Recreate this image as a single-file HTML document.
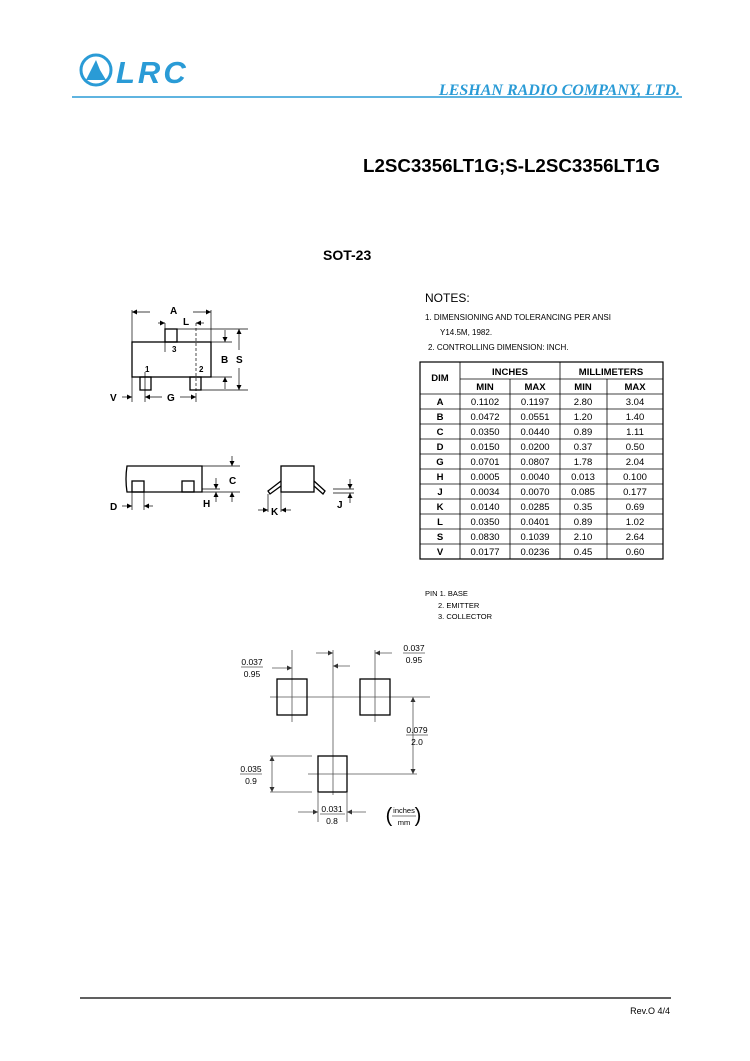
<!DOCTYPE html>
<html><head><meta charset="utf-8"><style>
html,body{margin:0;padding:0;background:#fff}
svg{display:block}
text{font-family:"Liberation Sans",Arial,sans-serif}
</style></head><body>
<svg width="750" height="1061" viewBox="0 0 750 1061" xmlns="http://www.w3.org/2000/svg">
<defs>
<marker id="a" viewBox="0 0 10 10" refX="10" refY="5" markerWidth="6" markerHeight="5" orient="auto" markerUnits="userSpaceOnUse"><path d="M0 0 L10 5 L0 10 Z" fill="#000"/></marker>
<marker id="g" viewBox="0 0 10 10" refX="10" refY="5" markerWidth="6" markerHeight="5" orient="auto" markerUnits="userSpaceOnUse"><path d="M0 0 L10 5 L0 10 Z" fill="#333"/></marker>
</defs>
<!-- header -->
<circle cx="96" cy="70" r="15" fill="none" stroke="#2a9bd6" stroke-width="3"/>
<path d="M86 80 L96 60 L100 70 L106 80 Z" fill="#2a9bd6"/>
<text x="116" y="83" font-size="31" font-weight="bold" font-style="italic" fill="#2a9bd6" letter-spacing="3">LRC</text>
<text x="680" y="95" text-anchor="end" font-size="16" font-weight="bold" font-style="italic" fill="#2a9bd6" style="font-family:'Liberation Serif',serif">LESHAN RADIO COMPANY, LTD.</text>
<line x1="72" y1="97" x2="682" y2="97" stroke="#2a9bd6" stroke-width="1.5"/>
<text x="363" y="172" font-size="18" font-weight="bold" textLength="297" lengthAdjust="spacingAndGlyphs">L2SC3356LT1G;S-L2SC3356LT1G</text>
<text x="323" y="260" font-size="14" font-weight="bold">SOT-23</text>

<!-- top view -->
<g stroke="#000" fill="none" stroke-width="1.3">
<rect x="132" y="342" width="79" height="35" fill="#fff"/>
<rect x="165" y="329" width="12" height="13"/>
<rect x="140" y="377" width="11" height="13"/>
<rect x="190" y="377" width="11" height="13"/>
</g>
<g stroke="#000" stroke-width="0.7" fill="none">
<line x1="132" y1="310" x2="132" y2="402"/><line x1="211" y1="310" x2="211" y2="342"/>
<line x1="150" y1="312" x2="132" y2="312" marker-end="url(#a)"/><line x1="193" y1="312" x2="211" y2="312" marker-end="url(#a)"/>
<line x1="177" y1="329" x2="248" y2="329"/>
<line x1="211" y1="342" x2="232" y2="342"/><line x1="211" y1="377" x2="232" y2="377"/>
<line x1="201" y1="390" x2="248" y2="390"/>
<line x1="239" y1="350" x2="239" y2="329" marker-end="url(#a)"/><line x1="239" y1="368" x2="239" y2="390" marker-end="url(#a)"/>
<line x1="225" y1="330" x2="225" y2="342" marker-end="url(#a)"/><line x1="225" y1="389" x2="225" y2="377" marker-end="url(#a)"/>
<line x1="165" y1="323" x2="165" y2="352"/><line x1="196" y1="323" x2="196" y2="395" stroke-dasharray="3,2"/>
<line x1="158" y1="323" x2="165" y2="323" marker-end="url(#a)"/><line x1="204" y1="323" x2="196" y2="323" marker-end="url(#a)"/>
<line x1="145" y1="372" x2="145" y2="402"/><line x1="196" y1="395" x2="196" y2="402"/>
<line x1="162" y1="397" x2="145" y2="397" marker-end="url(#a)"/><line x1="180" y1="397" x2="196" y2="397" marker-end="url(#a)"/>
<line x1="122" y1="397" x2="132" y2="397" marker-end="url(#a)"/>
</g>
<g font-size="10" font-weight="bold">
<text x="170" y="314">A</text><text x="183" y="325">L</text><text x="221" y="363">B</text><text x="236" y="363">S</text>
<text x="167" y="401">G</text><text x="110" y="401">V</text>
</g>
<g font-size="8" font-weight="bold"><text x="172" y="352">3</text><text x="145" y="372">1</text><text x="199" y="372">2</text></g>

<!-- side view -->
<g stroke="#000" fill="none" stroke-width="1.3">
<path d="M127 466 L202 466 L202 492 L127 492 Q125 479 127 466 Z"/>
<rect x="132" y="481" width="12" height="11"/><rect x="182" y="481" width="12" height="11"/>
<rect x="281" y="466" width="33" height="26"/>
<path d="M281 481 L268 491 L270 494 L281 486"/><path d="M314 481 L325 491 L323 494 L314 486"/>
</g>
<g stroke="#000" stroke-width="0.7" fill="none">
<line x1="202" y1="466" x2="240" y2="466"/><line x1="202" y1="492" x2="240" y2="492"/>
<line x1="202" y1="489" x2="220" y2="489"/>
<line x1="232" y1="456" x2="232" y2="466" marker-end="url(#a)"/><line x1="232" y1="502" x2="232" y2="492" marker-end="url(#a)"/>
<line x1="216" y1="478" x2="216" y2="489" marker-end="url(#a)"/><line x1="216" y1="502" x2="216" y2="492" marker-end="url(#a)"/>
<line x1="132" y1="492" x2="132" y2="510"/><line x1="144" y1="492" x2="144" y2="510"/>
<line x1="122" y1="506" x2="132" y2="506" marker-end="url(#a)"/><line x1="153" y1="506" x2="144" y2="506" marker-end="url(#a)"/>
<line x1="268" y1="494" x2="268" y2="512"/><line x1="281" y1="492" x2="281" y2="512"/>
<line x1="258" y1="510" x2="268" y2="510" marker-end="url(#a)"/><line x1="291" y1="510" x2="281" y2="510" marker-end="url(#a)"/>
<line x1="333" y1="489" x2="354" y2="489"/><line x1="333" y1="493" x2="354" y2="493"/>
<line x1="350" y1="479" x2="350" y2="489" marker-end="url(#a)"/><line x1="350" y1="503" x2="350" y2="493" marker-end="url(#a)"/>
</g>
<g font-size="10" font-weight="bold">
<text x="229" y="484">C</text><text x="203" y="507">H</text><text x="110" y="510">D</text><text x="271" y="515">K</text><text x="337" y="508">J</text>
</g>

<!-- notes -->
<text x="425" y="302" font-size="12">NOTES:</text>
<text x="425" y="320" font-size="8">1. DIMENSIONING AND TOLERANCING PER ANSI</text>
<text x="440" y="335" font-size="8">Y14.5M, 1982.</text>
<text x="428" y="350" font-size="8">2. CONTROLLING DIMENSION: INCH.</text>

<!-- table -->
<g stroke="#000" stroke-width="0.8" fill="none">
<rect x="420" y="362" width="243" height="197" stroke-width="1.2"/>
<line x1="460" y1="362" x2="460" y2="559"/>
<line x1="560" y1="362" x2="560" y2="559"/>
<line x1="510" y1="379" x2="510" y2="559"/>
<line x1="607" y1="379" x2="607" y2="559"/>
<line x1="460" y1="379" x2="663" y2="379"/>
<line x1="420" y1="394" x2="663" y2="394"/>
<line x1="420" y1="409" x2="663" y2="409"/><line x1="420" y1="424" x2="663" y2="424"/>
<line x1="420" y1="439" x2="663" y2="439"/><line x1="420" y1="454" x2="663" y2="454"/>
<line x1="420" y1="469" x2="663" y2="469"/><line x1="420" y1="484" x2="663" y2="484"/>
<line x1="420" y1="499" x2="663" y2="499"/><line x1="420" y1="514" x2="663" y2="514"/>
<line x1="420" y1="529" x2="663" y2="529"/><line x1="420" y1="544" x2="663" y2="544"/>
</g>
<g font-size="9.5" font-weight="bold" text-anchor="middle">
<text x="440" y="381">DIM</text><text x="510" y="375">INCHES</text><text x="611" y="375">MILLIMETERS</text>
<text x="485" y="390">MIN</text><text x="535" y="390">MAX</text><text x="583" y="390">MIN</text><text x="635" y="390">MAX</text>
</g>
<g font-size="9.5" text-anchor="middle">
<g font-weight="bold"><text x="440" y="405">A</text><text x="440" y="420">B</text><text x="440" y="435">C</text><text x="440" y="450">D</text><text x="440" y="465">G</text><text x="440" y="480">H</text><text x="440" y="495">J</text><text x="440" y="510">K</text><text x="440" y="525">L</text><text x="440" y="540">S</text><text x="440" y="555">V</text></g>
<text x="485" y="405">0.1102</text><text x="535" y="405">0.1197</text><text x="583" y="405">2.80</text><text x="635" y="405">3.04</text>
<text x="485" y="420">0.0472</text><text x="535" y="420">0.0551</text><text x="583" y="420">1.20</text><text x="635" y="420">1.40</text>
<text x="485" y="435">0.0350</text><text x="535" y="435">0.0440</text><text x="583" y="435">0.89</text><text x="635" y="435">1.11</text>
<text x="485" y="450">0.0150</text><text x="535" y="450">0.0200</text><text x="583" y="450">0.37</text><text x="635" y="450">0.50</text>
<text x="485" y="465">0.0701</text><text x="535" y="465">0.0807</text><text x="583" y="465">1.78</text><text x="635" y="465">2.04</text>
<text x="485" y="480">0.0005</text><text x="535" y="480">0.0040</text><text x="583" y="480">0.013</text><text x="635" y="480">0.100</text>
<text x="485" y="495">0.0034</text><text x="535" y="495">0.0070</text><text x="583" y="495">0.085</text><text x="635" y="495">0.177</text>
<text x="485" y="510">0.0140</text><text x="535" y="510">0.0285</text><text x="583" y="510">0.35</text><text x="635" y="510">0.69</text>
<text x="485" y="525">0.0350</text><text x="535" y="525">0.0401</text><text x="583" y="525">0.89</text><text x="635" y="525">1.02</text>
<text x="485" y="540">0.0830</text><text x="535" y="540">0.1039</text><text x="583" y="540">2.10</text><text x="635" y="540">2.64</text>
<text x="485" y="555">0.0177</text><text x="535" y="555">0.0236</text><text x="583" y="555">0.45</text><text x="635" y="555">0.60</text>
</g>
<g font-size="7.5"><text x="425" y="596">PIN 1. BASE</text><text x="438" y="608">2. EMITTER</text><text x="438" y="619">3. COLLECTOR</text></g>

<!-- footprint -->
<g stroke="#555" stroke-width="0.8" fill="none">
<line x1="270" y1="697" x2="430" y2="697"/>
<line x1="308" y1="774" x2="417" y2="774"/>
<line x1="292" y1="650" x2="292" y2="722"/>
<line x1="375" y1="650" x2="375" y2="722"/>
<line x1="333" y1="650" x2="333" y2="795"/>
<line x1="316" y1="653" x2="333" y2="653" marker-end="url(#g)"/><line x1="350" y1="666" x2="333" y2="666" marker-end="url(#g)"/>
<line x1="272" y1="668" x2="292" y2="668" marker-end="url(#g)"/><line x1="392" y1="653" x2="375" y2="653" marker-end="url(#g)"/>
<line x1="413" y1="735" x2="413" y2="697" marker-end="url(#g)"/><line x1="413" y1="735" x2="413" y2="774" marker-end="url(#g)"/>
<line x1="270" y1="756" x2="312" y2="756"/><line x1="270" y1="792" x2="312" y2="792"/>
<line x1="272" y1="774" x2="272" y2="756" marker-end="url(#g)"/><line x1="272" y1="774" x2="272" y2="792" marker-end="url(#g)"/>
<line x1="318" y1="793" x2="318" y2="822"/><line x1="347" y1="793" x2="347" y2="822"/>
<line x1="298" y1="812" x2="318" y2="812" marker-end="url(#g)"/><line x1="366" y1="812" x2="347" y2="812" marker-end="url(#g)"/>
<line x1="241" y1="667" x2="263" y2="667"/><line x1="403" y1="653" x2="425" y2="653"/>
<line x1="406" y1="735" x2="428" y2="735"/><line x1="240" y1="774" x2="262" y2="774"/>
<line x1="320" y1="814" x2="345" y2="814"/><line x1="392" y1="816" x2="416" y2="816"/>
</g>
<g stroke="#000" stroke-width="1.3" fill="none">
<rect x="277" y="679" width="30" height="36"/>
<rect x="360" y="679" width="30" height="36"/>
<rect x="318" y="756" width="29" height="36"/>
</g>
<g font-size="8.5" text-anchor="middle">
<text x="252" y="665">0.037</text><text x="252" y="677">0.95</text>
<text x="414" y="651">0.037</text><text x="414" y="663">0.95</text>
<text x="417" y="733">0.079</text><text x="417" y="745">2.0</text>
<text x="251" y="772">0.035</text><text x="251" y="784">0.9</text>
<text x="332" y="812">0.031</text><text x="332" y="824">0.8</text>
<text x="404" y="813" font-size="7.5">inches</text><text x="404" y="825" font-size="7.5">mm</text>
<text x="389" y="822" font-size="20">(</text><text x="418" y="822" font-size="20">)</text>
</g>

<line x1="80" y1="998" x2="671" y2="998" stroke="#000" stroke-width="1.2"/>
<text x="670" y="1014" text-anchor="end" font-size="9">Rev.O  4/4</text>
</svg>
</body></html>
